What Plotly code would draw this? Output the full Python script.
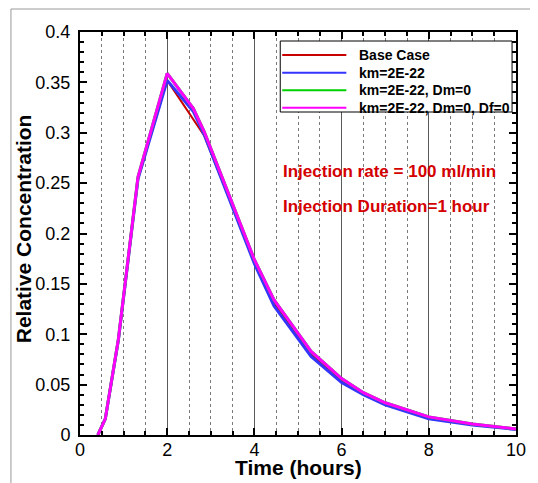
import plotly.graph_objects as go

# ---------------- data ----------------
time_h = [0.41, 0.58, 0.88, 1.33, 2.0, 2.6, 2.85, 4.0, 4.45, 5.3, 6.0, 6.5, 7.0, 8.0, 9.0, 10.0]
base_case = [0.0, 0.016, 0.094, 0.255, 0.352, 0.313, 0.297, 0.172, 0.131, 0.080, 0.054, 0.041, 0.031, 0.017, 0.0105, 0.006]
km_only = [0.0, 0.016, 0.094, 0.254, 0.352, 0.321, 0.298, 0.170, 0.128, 0.078, 0.052, 0.040, 0.030, 0.016, 0.010, 0.0055]
km_dm = [0.0, 0.016, 0.095, 0.256, 0.359, 0.324, 0.301, 0.174, 0.134, 0.083, 0.056, 0.042, 0.032, 0.018, 0.011, 0.006]
km_dm_df = [0.0, 0.016, 0.095, 0.256, 0.359, 0.324, 0.301, 0.174, 0.134, 0.083, 0.056, 0.042, 0.032, 0.018, 0.011, 0.006]

series_names = ["Base Case", "km=2E-22", "km=2E-22, Dm=0", "km=2E-22, Dm=0, Df=0"]
series_colors = ["#c80000", "#3434ff", "#00d000", "#ff00ff"]
series_widths = [2, 3, 3, 3]

y_tickvals = [0, 0.05, 0.1, 0.15, 0.2, 0.25, 0.3, 0.35, 0.4]
y_ticktext = ["0", "0.05", "0.1", "0.15", "0.2", "0.25", "0.3", "0.35", "0.4"]
x_tickvals = [0, 2, 4, 6, 8, 10]
x_ticktext = ["0", "2", "4", "6", "8", "10"]

notes = ["Injection rate = 100 ml/min", "Injection Duration=1 hour"]

# ---------------- layout geometry ----------------
# The page body has an 8px margin, so the figure is drawn 8px right/down.
OFF = 8
W, H = 538 - OFF, 483 - OFF
PL, PR, PT, PB = 80, 522, 32, 435  # plot area in window pixels
L, R, T, B = PL - OFF, W - (PR - OFF), PT - OFF, H - (PB - OFF)
PW, PH = W - L - R, H - T - B


def px_x(px):
    return (px - OFF - L) / PW


def px_y(py):
    return (H - B - (py - OFF)) / PH


FONT = "Liberation Sans, Arial, sans-serif"

fig = go.Figure()
all_series = [base_case, km_only, km_dm, km_dm_df]
for name, vals, col, wd in zip(series_names, all_series, series_colors, series_widths):
    fig.add_trace(go.Scatter(x=time_h, y=vals, mode="lines", name=name,
                             line=dict(color=col, width=wd), showlegend=False))

shapes = []
# outer frame (top and left lines)
shapes.append(dict(type="line", xref="paper", yref="paper", x0=px_x(10), x1=px_x(545),
                   y0=px_y(9), y1=px_y(9), line=dict(color="#9a9a9a", width=1)))
shapes.append(dict(type="line", xref="paper", yref="paper", x0=px_x(10), x1=px_x(10),
                   y0=px_y(9), y1=px_y(490), line=dict(color="#9a9a9a", width=1)))
# legend box
shapes.append(dict(type="rect", xref="paper", yref="paper", x0=px_x(283), x1=px_x(518),
                   y0=px_y(41), y1=px_y(112), fillcolor="white",
                   line=dict(color="black", width=1)))
annotations = []
row_y = [55, 72.7, 90.2, 107.7]
for name, col, ry in zip(series_names, series_colors, row_y):
    shapes.append(dict(type="line", xref="paper", yref="paper", x0=px_x(285), x1=px_x(350),
                       y0=px_y(ry), y1=px_y(ry), line=dict(color=col, width=2)))
    annotations.append(dict(text=name, xref="paper", yref="paper", x=px_x(361), y=px_y(ry),
                            xanchor="left", yanchor="middle", showarrow=False,
                            font=dict(family=FONT, size=14, color="black", weight="bold")))

for note, ny in zip(notes, [171.7, 206.7]):
    annotations.append(dict(text=note, xref="paper", yref="paper", x=px_x(284), y=px_y(ny),
                            xanchor="left", yanchor="middle", showarrow=False,
                            font=dict(family=FONT, size=17, color="#d40000", weight="bold")))

annotations.append(dict(text="Time (hours)", xref="paper", yref="paper", x=px_x(301), y=px_y(467),
                        xanchor="center", yanchor="middle", showarrow=False,
                        font=dict(family=FONT, size=21, color="black", weight="bold")))
annotations.append(dict(text="Relative Concentration", xref="paper", yref="paper", x=px_x(23),
                        y=px_y(228.5), xanchor="center", yanchor="middle", showarrow=False,
                        textangle=-90,
                        font=dict(family=FONT, size=21, color="black", weight="bold")))

fig.update_layout(
    width=W, height=H,
    margin=dict(l=L, r=R, t=T, b=B, pad=0),
    paper_bgcolor="white", plot_bgcolor="white",
    shapes=shapes, annotations=annotations,
    font=dict(family=FONT, color="black"),
    xaxis=dict(range=[0, 10], tickmode="array", tickvals=x_tickvals, ticktext=x_ticktext,
               ticks="inside", ticklen=7, tickwidth=1.5, tickcolor="black",
               showline=True, linewidth=2, linecolor="black", mirror="ticks",
               showgrid=True, gridcolor="#5a5a5a", gridwidth=1, zeroline=False,
               ticklabelstandoff=-3,
               tickfont=dict(family=FONT, size=18, color="black"),
               minor=dict(dtick=0.5, tick0=0, ticks="inside", ticklen=4, tickcolor="black",
                          showgrid=True, griddash="dot", gridcolor="#7a7a7a", gridwidth=1)),
    yaxis=dict(range=[0, 0.4], tickmode="array", tickvals=y_tickvals, ticktext=y_ticktext,
               ticks="inside", ticklen=7, tickwidth=1.5, tickcolor="black",
               showline=True, linewidth=2, linecolor="black", mirror="ticks",
               showgrid=False, zeroline=False, ticklabelstandoff=4,
               tickfont=dict(family=FONT, size=18, color="black"),
               minor=dict(dtick=0.01, tick0=0, ticks="inside", ticklen=4, tickcolor="black",
                          showgrid=False)),
)

fig.write_html("out.html")
